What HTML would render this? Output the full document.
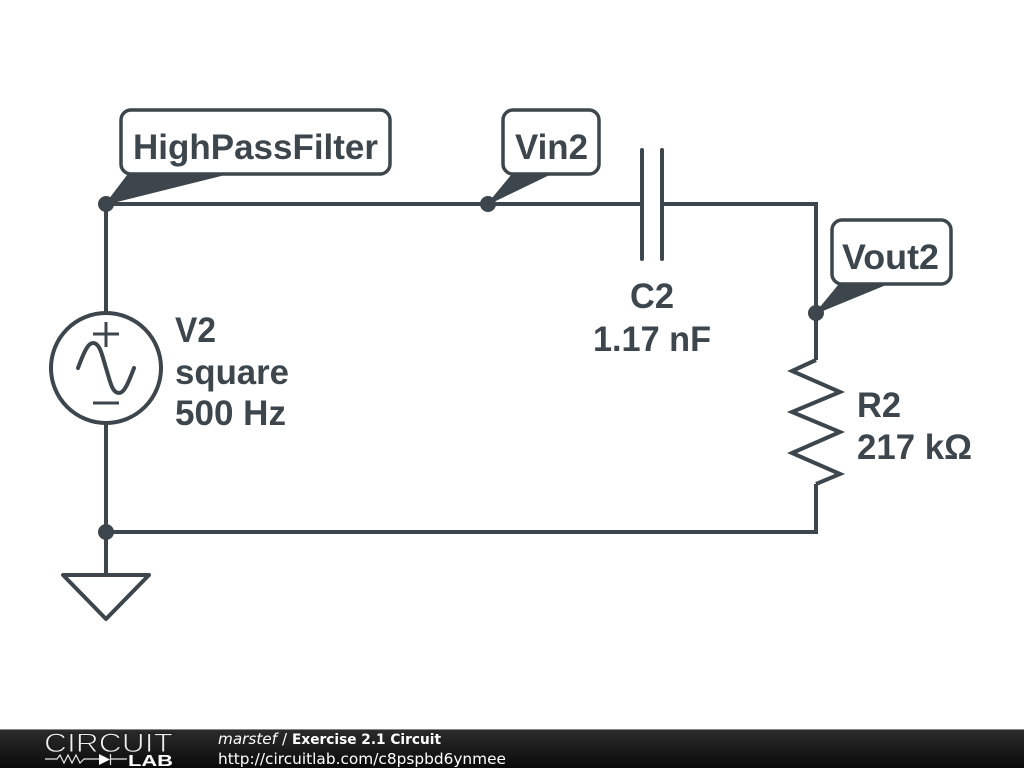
<!DOCTYPE html>
<html><head><meta charset="utf-8"><style>
html,body{margin:0;padding:0;background:#fff;width:1024px;height:768px;overflow:hidden}
svg{display:block}
</style></head><body>
<svg width="1024" height="768" viewBox="0 0 1024 768" xmlns="http://www.w3.org/2000/svg">
<defs><linearGradient id="bar" x1="0" y1="0" x2="0" y2="1"><stop offset="0" stop-color="#2c2c2c"/><stop offset="1" stop-color="#0a0a0a"/></linearGradient></defs>
<rect width="1024" height="768" fill="#fff"/>
<g fill="none" stroke="#3c464c" stroke-width="4" stroke-linejoin="miter" stroke-linecap="butt">
<path d="M106 204H641M663 204H816V360"/>
<path d="M106 204V313M106 423V575"/>
<path d="M106 532H816V484"/>
<path d="M816 360L792 371L840 392L792 412L840 432L792 453L840 474L816 484"/>
<path d="M642 150V259M662 150V259" stroke-linecap="round"/>
<circle cx="106" cy="368" r="55"/>
<path d="M106 322V347M93 334H119M93 403H119" stroke-width="3"/>
<path d="M78 368C84 352 88 343 93 343C100 343 102 355 106 368C110 381 112 393 119 393C124 393 128 384 134 368" stroke-linecap="round"/>
<path d="M63 575H149L106 619Z" stroke-linejoin="round"/>
<g stroke-width="3.500">
<rect x="121" y="110" width="269" height="64" rx="10" fill="#fff"/>
<rect x="503" y="110" width="96" height="64" rx="10" fill="#fff"/>
<rect x="832" y="220" width="119" height="64" rx="10" fill="#fff"/>
</g>
</g>
<g fill="#3c464c" stroke="#3c464c" stroke-width="1.500">
<path d="M106 204L128 175H222Z"/>
<path d="M488 204L512 175H548Z"/>
<path d="M816 313L839 285H884Z"/>
</g>
<g fill="#3c464c">
<circle cx="106" cy="204" r="8"/><circle cx="488" cy="204" r="8"/><circle cx="816" cy="313" r="8"/><circle cx="106" cy="532" r="8"/>
</g>
<g font-family="'Liberation Sans',sans-serif" font-weight="700" font-size="35" fill="#3c464c">
<text x="133" y="159" textLength="245" lengthAdjust="spacingAndGlyphs">HighPassFilter</text>
<text x="515" y="159" textLength="73" lengthAdjust="spacingAndGlyphs">Vin2</text>
<text x="842" y="269" textLength="97" lengthAdjust="spacingAndGlyphs">Vout2</text>
<text x="175" y="342" textLength="41" lengthAdjust="spacingAndGlyphs">V2</text>
<text x="175" y="384" textLength="114" lengthAdjust="spacingAndGlyphs">square</text>
<text x="175" y="425" textLength="111" lengthAdjust="spacingAndGlyphs">500 Hz</text>
<text x="630" y="308" textLength="44" lengthAdjust="spacingAndGlyphs">C2</text>
<text x="593" y="351" textLength="118" lengthAdjust="spacingAndGlyphs">1.17 nF</text>
<text x="857" y="417" textLength="44" lengthAdjust="spacingAndGlyphs">R2</text>
<text x="857" y="459" textLength="115" lengthAdjust="spacingAndGlyphs">217 kΩ</text>
</g>
<rect x="0" y="729" width="1024" height="39" fill="url(#bar)"/>
<rect x="0" y="729" width="1024" height="1" fill="#888"/>
<text x="44" y="752" font-family="'Liberation Sans',sans-serif" font-size="26.500" fill="#f0f0f0" stroke="#1c1c1c" stroke-width="0.900" paint-order="fill stroke" textLength="129" lengthAdjust="spacingAndGlyphs">CIRCUIT</text>
<text x="128" y="766" font-family="'Liberation Sans',sans-serif" font-weight="700" font-size="16" fill="#fff" textLength="45" lengthAdjust="spacingAndGlyphs">LAB</text>
<path d="M45 759H57L60 755L64 763L68 755L72 763L76 755L80 763L84 759H99M110 759H127M110.500 754V765" fill="none" stroke="#e8e8e8" stroke-width="1.200"/>
<path d="M99 754L110 759.500L99 765Z" fill="#fff"/>
<g font-family="'DejaVu Sans',sans-serif" fill="#fff">
<text x="218" y="744" font-size="15" font-style="italic" textLength="59" lengthAdjust="spacingAndGlyphs">marstef</text>
<text x="282" y="744" font-size="15">/</text>
<text x="292" y="744" font-size="14" font-weight="700" textLength="149" lengthAdjust="spacingAndGlyphs">Exercise 2.1 Circuit</text>
<text x="218" y="764" font-size="15.300" textLength="288" lengthAdjust="spacingAndGlyphs">http://circuitlab.com/c8pspbd6ynmee</text>
</g>
</svg>
</body></html>
